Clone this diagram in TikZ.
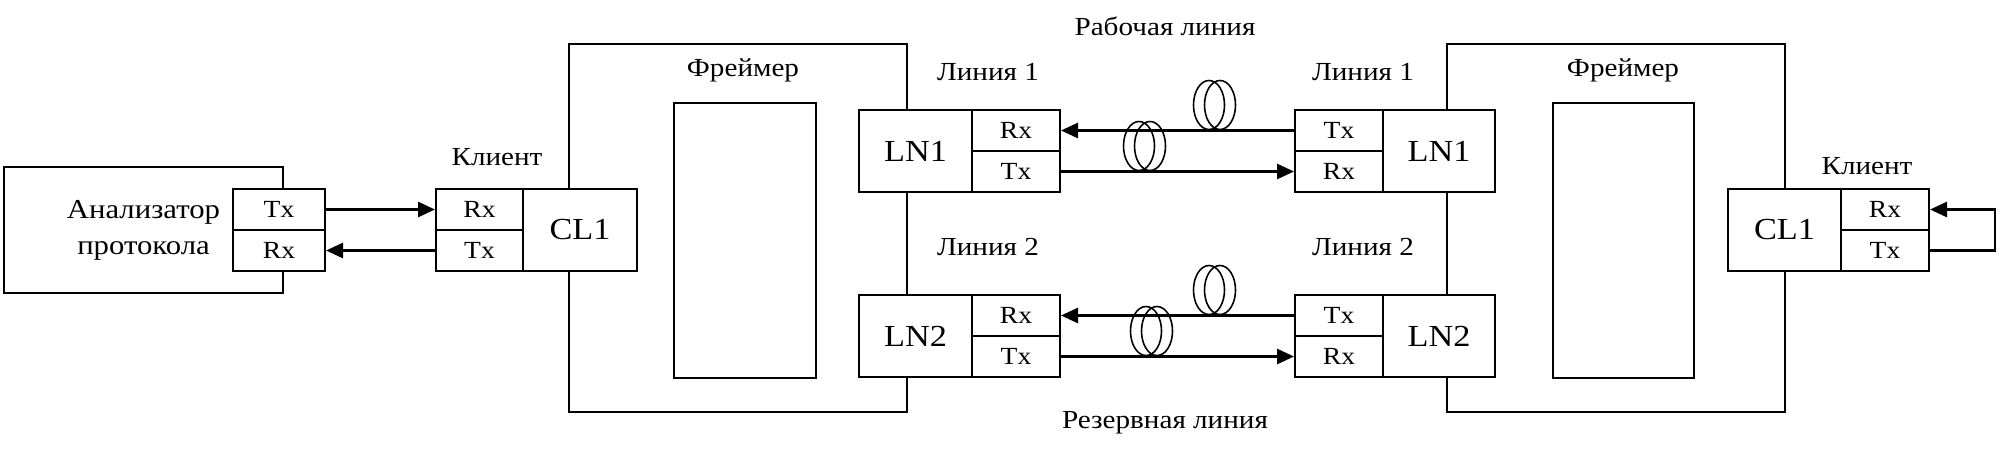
\documentclass[tikz,border=0pt]{standalone}
\usepackage{fontspec}
\setmainfont[FakeStretch=1.12]{Liberation Serif}
\usetikzlibrary{arrows.meta}

\begin{document}
\begin{tikzpicture}[x=0.01cm, y=-0.01cm, >={Triangle[length=1.7mm, width=1.5mm]},
    framer/.style={draw, line width=0.55pt, inner sep=0pt},
    blk/.style={draw, line width=0.55pt, fill=white, inner sep=0pt, minimum height=0.82cm, font=\fontsize{8.7}{10}\selectfont},
    port/.style={draw, line width=0.55pt, fill=white, inner sep=0pt, minimum width=0.88cm, minimum height=0.41cm, font=\fontsize{7}{8}\selectfont},
    lbl/.style={inner sep=0pt, font=\fontsize{7.4}{9}\selectfont},
    fiber/.style={->, line width=0.8pt},
    coil/.style={line width=0.45pt}]
    \useasboundingbox (0,0) rectangle (2000,454);

    % Анализатор протокола
    \node[framer, minimum width=2.79cm, minimum height=1.26cm, align=center, font=\fontsize{7.8}{10.2}\selectfont] (an) at (143.5,230) {Анализатор\\протокола};
    \node[port, minimum width=0.92cm] (anTx) at (279,209.5) {Tx};
    \node[port, minimum width=0.92cm] (anRx) at (279,250.5) {Rx};

    % Фреймеры
    \node[framer, minimum width=3.38cm, minimum height=3.68cm] (fr1) at (738,228) {};
    \node[framer, minimum width=1.42cm, minimum height=2.75cm] (core1) at (745,240.5) {};
    \node[lbl] (fr1Lbl) at (743,70) {Фреймер};
    \node[framer, minimum width=3.38cm, minimum height=3.68cm] (fr2) at (1616,228) {};
    \node[framer, minimum width=1.41cm, minimum height=2.75cm] (core2) at (1623.5,240.5) {};
    \node[lbl] (fr2Lbl) at (1623,70) {Фреймер};

    % Клиент слева
    \node[port, minimum width=0.87cm] (clRx) at (479.5,209.5) {Rx};
    \node[port, minimum width=0.87cm] (clTx) at (479.5,250.5) {Tx};
    \node[blk, minimum width=1.14cm] (cl) at (580,230) {CL1};
    \node[lbl] (clLbl) at (497,157) {Клиент};

    % Линии слева
    \node[blk, minimum width=1.13cm] (ln1L) at (915.5,151) {LN1};
    \node[port] (ln1LRx) at (1016,130.5) {Rx};
    \node[port] (ln1LTx) at (1016,171.5) {Tx};
    \node[blk, minimum width=1.13cm] (ln2L) at (915.5,336) {LN2};
    \node[port] (ln2LRx) at (1016,315.5) {Rx};
    \node[port] (ln2LTx) at (1016,356.5) {Tx};
    \node[lbl] (l1L) at (988,72) {Линия 1};
    \node[lbl] (l2L) at (988,247) {Линия 2};

    % Линии справа
    \node[port] (ln1RTx) at (1339,130.5) {Tx};
    \node[port] (ln1RRx) at (1339,171.5) {Rx};
    \node[blk, minimum width=1.12cm] (ln1R) at (1439,151) {LN1};
    \node[port] (ln2RTx) at (1339,315.5) {Tx};
    \node[port] (ln2RRx) at (1339,356.5) {Rx};
    \node[blk, minimum width=1.12cm] (ln2R) at (1439,336) {LN2};
    \node[lbl] (l1R) at (1363,72) {Линия 1};
    \node[lbl] (l2R) at (1363,247) {Линия 2};

    % Клиент справа
    \node[blk, minimum width=1.13cm] (cr) at (1784.5,230) {CL1};
    \node[port] (crRx) at (1885,209.5) {Rx};
    \node[port] (crTx) at (1885,250.5) {Tx};
    \node[lbl] (crLbl) at (1867,166) {Клиент};

    \node[lbl] (work) at (1165,26) {Рабочая линия};
    \node[lbl] (spare) at (1165,423) {Резервная линия};

    % Соединения
    \draw[fiber] (anTx.east) -- (clRx.west);
    \draw[fiber] (clTx.west) -- (anRx.east);
    \draw[fiber] (ln1RTx.west) -- (ln1LRx.east);
    \draw[fiber] (ln1LTx.east) -- (ln1RRx.west);
    \draw[fiber] (ln2RTx.west) -- (ln2LRx.east);
    \draw[fiber] (ln2LTx.east) -- (ln2RRx.west);
    \coordinate (loop) at (1995,230);
    \draw[fiber] (crTx.east) -- (crTx.east -| loop) |- (crRx.east);

    % Катушки волокна
    \foreach \cx/\cy in {1209/105, 1139/146, 1209/290, 1146/331}
        \draw[coil] (\cx,\cy) ellipse [x radius=0.155cm, y radius=0.245cm]
                    (\cx+11,\cy) ellipse [x radius=0.155cm, y radius=0.245cm];
\end{tikzpicture}
\end{document}
